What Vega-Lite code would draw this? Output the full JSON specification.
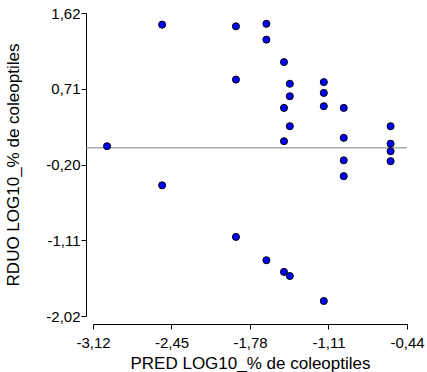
{
  "$schema": "https://vega.github.io/schema/vega-lite/v6.json",
  "autosize": {"type": "none"},
  "padding": {"left": 93, "top": 13, "right": 20, "bottom": 56},
  "width": 314,
  "height": 303,
  "background": "white",
  "config": {
    "view": {"stroke": null},
    "font": "Liberation Sans",
    "axis": {
      "grid": false,
      "domainColor": "black",
      "tickColor": "black",
      "domainWidth": 1,
      "tickWidth": 1,
      "tickSize": 5,
      "labelColor": "black",
      "titleColor": "black",
      "labelFont": "Liberation Sans",
      "titleFont": "Liberation Sans",
      "labelFontSize": 15,
      "titleFontSize": 17,
      "titleFontWeight": "normal",
      "labelFlush": false,
      "labelOverlap": false
    }
  },
  "datasets": {
    "pts": [
      {"pred": -3.00, "rduo": 0.02},
      {"pred": -2.53, "rduo": 1.48},
      {"pred": -2.53, "rduo": -0.45},
      {"pred": -1.90, "rduo": 1.46},
      {"pred": -1.90, "rduo": 0.82},
      {"pred": -1.90, "rduo": -1.07},
      {"pred": -1.64, "rduo": 1.49},
      {"pred": -1.64, "rduo": 1.30},
      {"pred": -1.64, "rduo": -1.35},
      {"pred": -1.49, "rduo": 1.03},
      {"pred": -1.49, "rduo": 0.48},
      {"pred": -1.49, "rduo": 0.08},
      {"pred": -1.49, "rduo": -1.49},
      {"pred": -1.44, "rduo": 0.77},
      {"pred": -1.44, "rduo": 0.62},
      {"pred": -1.44, "rduo": 0.26},
      {"pred": -1.44, "rduo": -1.54},
      {"pred": -1.15, "rduo": 0.79},
      {"pred": -1.15, "rduo": 0.66},
      {"pred": -1.15, "rduo": 0.50},
      {"pred": -1.15, "rduo": -1.84},
      {"pred": -0.98, "rduo": 0.48},
      {"pred": -0.98, "rduo": 0.12},
      {"pred": -0.98, "rduo": -0.15},
      {"pred": -0.98, "rduo": -0.34},
      {"pred": -0.58, "rduo": 0.26},
      {"pred": -0.58, "rduo": 0.05},
      {"pred": -0.58, "rduo": -0.04},
      {"pred": -0.58, "rduo": -0.16}
    ],
    "zero": [{"x1": -3.18, "x2": -0.44, "y": 0}]
  },
  "layer": [
    {
      "data": {"name": "zero"},
      "mark": {"type": "rule", "color": "#808080", "strokeWidth": 1, "clip": false},
      "encoding": {
        "x": {"field": "x1", "type": "quantitative"},
        "x2": {"field": "x2"},
        "y": {"field": "y", "type": "quantitative"}
      }
    },
    {
      "data": {"name": "pts"},
      "mark": {"type": "point", "filled": true, "shape": "circle", "size": 50, "fill": "#0000ff", "stroke": "black", "strokeWidth": 1, "opacity": 1},
      "encoding": {
        "x": {
          "field": "pred",
          "type": "quantitative",
          "scale": {"domain": [-3.12, -0.44], "nice": false, "zero": false},
          "axis": {
            "title": "PRED LOG10_% de coleoptiles",
            "offset": 8,
            "values": [-3.12, -2.45, -1.78, -1.11, -0.44],
            "labelExpr": "replace(replace(format(datum.value, '.2f'), '.', ','), '\u2212', '-')",
            "labelPadding": 6,
            "titlePadding": 5
          }
        },
        "y": {
          "field": "rduo",
          "type": "quantitative",
          "scale": {"domain": [-2.02, 1.62], "nice": false, "zero": false},
          "axis": {
            "title": "RDUO LOG10_% de coleoptiles",
            "offset": 7,
            "values": [-2.02, -1.11, -0.20, 0.71, 1.62],
            "labelExpr": "replace(replace(format(datum.value, '.2f'), '.', ','), '\u2212', '-')",
            "labelPadding": 1,
            "titlePadding": 23
          }
        }
      }
    }
  ]
}
